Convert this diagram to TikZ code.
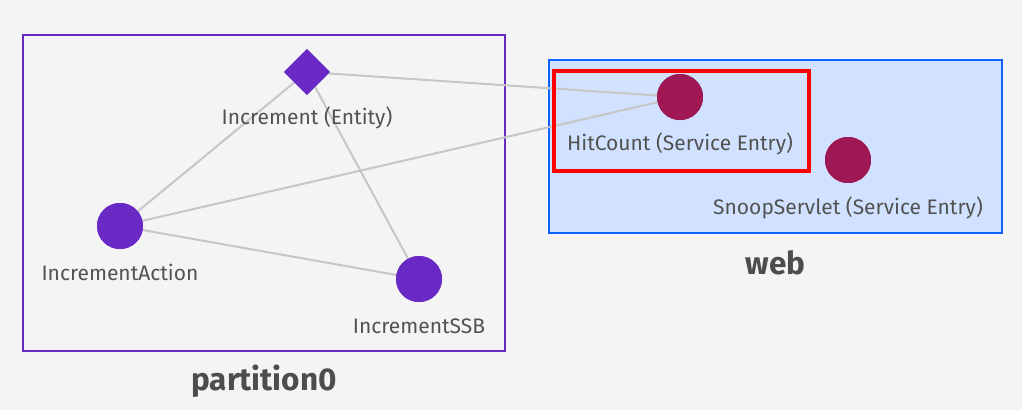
\documentclass[tikz,border=0pt]{standalone}
\usepackage{fontspec}
\setmainfont{Fira Sans}
\usetikzlibrary{shapes.geometric}
\definecolor{bgc}{HTML}{F4F4F4}
\definecolor{purp}{HTML}{6929C4}
\definecolor{mag}{HTML}{9F1853}
\definecolor{webfill}{HTML}{D0E2FF}
\definecolor{webline}{HTML}{0F62FE}
\definecolor{edgec}{HTML}{C6C6C6}
\definecolor{txt}{HTML}{525252}
\definecolor{grp}{HTML}{4D4D4D}
\begin{document}
\begin{tikzpicture}[x=1pt,y=-1pt,
  entity/.style={diamond,fill=purp,minimum size=46pt,inner sep=0pt},
  purpdot/.style={circle,fill=purp,minimum size=46pt,inner sep=0pt},
  magdot/.style={circle,fill=mag,minimum size=46pt,inner sep=0pt},
  lbl/.style={text=txt,font=\fontsize{21}{25}\selectfont,inner sep=0pt},
  grplbl/.style={text=grp,font=\fontsize{31.5}{36}\selectfont\bfseries,inner sep=0pt},
  edge/.style={draw=edgec,line width=2pt}]
\fill[bgc] (0,0) rectangle (1022,410);
\useasboundingbox (0,0) rectangle (1022,410);
% groups
\node[draw=purp,line width=2pt,minimum width=482pt,minimum height=316pt,inner sep=0pt] (part) at (264,193) {};
\node[grplbl] (partlbl) at (264,381) {partition0};
\node[draw=webline,fill=webfill,line width=2pt,minimum width=453pt,minimum height=173pt,inner sep=0pt] (web) at (775.5,146.5) {};
\node[grplbl] (weblbl) at (775.5,263) {web};
% nodes
\node[entity] (inc) at (307,72) {};
\node[purpdot] (act) at (120,226) {};
\node[purpdot] (ssb) at (419,279) {};
\node[magdot] (hit) at (680,97) {};
\node[magdot] (snoop) at (848,160) {};
% edges
\draw[edge] (inc) -- (hit);
\draw[edge] (act) -- (hit);
\draw[edge] (inc) -- (act);
\draw[edge] (inc) -- (ssb);
\draw[edge] (act) -- (ssb);
% redraw nodes above edges
\node[entity] at (inc) {};
\node[purpdot] at (act) {};
\node[purpdot] at (ssb) {};
\node[magdot] at (hit) {};
\node[magdot] at (snoop) {};
% labels
\node[lbl] (inclbl) at (307,118) {Increment (Entity)};
\node[lbl] (actlbl) at (120,272) {IncrementAction};
\node[lbl] (ssblbl) at (419,326) {IncrementSSB};
\node[lbl] (hitlbl) at (680,144) {HitCount (Service Entry)};
\node[lbl] (snooplbl) at (848,208) {SnoopServlet (Service Entry)};
% highlight
\node[draw=red,line width=4pt,minimum width=255pt,minimum height=100pt,inner sep=0pt] (hl) at (681.5,121) {};
\end{tikzpicture}
\end{document}
